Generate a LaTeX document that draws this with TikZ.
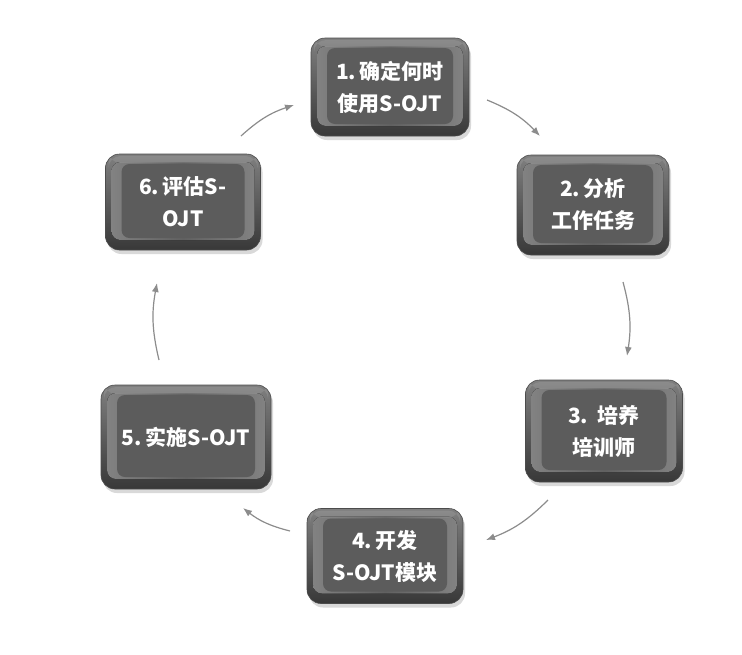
\documentclass[tikz,border=0pt]{standalone}
\usepackage{fontspec}
\newfontfamily\cjk{Noto Sans CJK SC}
\usetikzlibrary{arrows.meta,shadows}
\begin{document}
\begin{tikzpicture}[x=1pt,y=1pt,
  stepbox/.style={rectangle, rounded corners=14pt, draw=black!70, line width=0.6pt,
    top color=black!50, bottom color=black!78,
    text=white, align=center, font=\cjk\bfseries\fontsize{21}{32}\selectfont,
    drop shadow={opacity=0.3, shadow xshift=2pt, shadow yshift=-4pt},
    path picture={
      \fill[left color=black!48, right color=black!48, middle color=black!62, rounded corners=9pt]
        ([shift={(6pt,-8pt)}]path picture bounding box.north west) rectangle
        ([shift={(-6pt,10pt)}]path picture bounding box.south east);
      \fill[black!64, rounded corners=8pt]
        ([shift={(16pt,-10pt)}]path picture bounding box.north west) rectangle
        ([shift={(-16pt,12pt)}]path picture bounding box.south east);
      \fill[white, opacity=0.10, rounded corners=12pt]
        ([shift={(3pt,-2pt)}]path picture bounding box.north west) rectangle
        ([shift={(-3pt,-9pt)}]path picture bounding box.north east);
    }},
  arr/.style={draw=black!45, line width=1.2pt, -{Latex[length=9pt,width=7pt]}, bend left=12}]
\useasboundingbox (0,0) rectangle (742,-654);
\node[stepbox, minimum width=158pt, minimum height=98pt] (b1) at (390,-87) {1.\,确定何时\\使用S-OJT};
\node[stepbox, minimum width=152pt, minimum height=100pt] (b2) at (593,-205) {2.\,分析\\工作任务};
\node[stepbox, minimum width=157pt, minimum height=102pt] (b3) at (604,-431) {3.\ \ 培养\\培训师};
\node[stepbox, minimum width=156pt, minimum height=95pt] (b4) at (385,-556) {4.\,开发\\S-OJT模块};
\node[stepbox, minimum width=170pt, minimum height=104pt] (b5) at (186,-437) {5.\,实施S-OJT};
\node[stepbox, minimum width=155pt, minimum height=96pt] (b6) at (183,-202) {6.\,评估S-\\OJT};
\coordinate (a1s) at (487,-100); \coordinate (a1e) at (540,-136);
\coordinate (a2s) at (623,-282); \coordinate (a2e) at (627,-356);
\coordinate (a3s) at (548,-500); \coordinate (a3e) at (486,-540);
\coordinate (a4s) at (290,-531); \coordinate (a4e) at (243,-508);
\coordinate (a5s) at (159,-360); \coordinate (a5e) at (157,-283);
\coordinate (a6s) at (241,-136); \coordinate (a6e) at (294,-105);
\draw[arr] (a1s) to (a1e);
\draw[arr] (a2s) to (a2e);
\draw[arr] (a3s) to (a3e);
\draw[arr] (a4s) to (a4e);
\draw[arr] (a5s) to (a5e);
\draw[arr] (a6s) to (a6e);
\end{tikzpicture}
\end{document}
